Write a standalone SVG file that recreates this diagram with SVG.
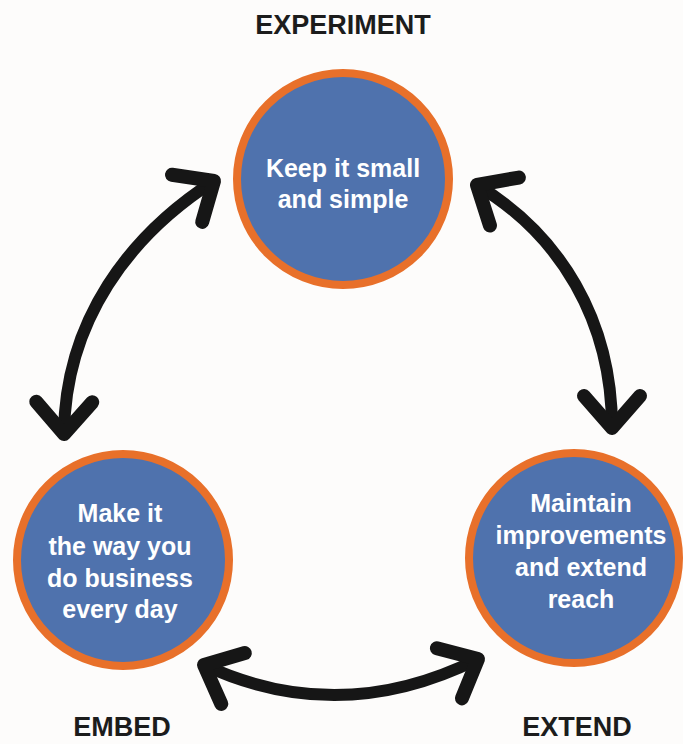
<svg xmlns="http://www.w3.org/2000/svg" width="683" height="744" viewBox="0 0 683 744">
  <style>
    .node circle { fill: #4f72ad; stroke: #e8702a; stroke-width: 8; }
    .node text { fill: #ffffff; font-family: "Liberation Sans", Arial, sans-serif; font-weight: bold; font-size: 25px; text-anchor: middle; }
    .stage { fill: #1c1c1c; font-family: "Liberation Sans", Arial, sans-serif; font-weight: bold; font-size: 27px; text-anchor: middle; }
    .link { fill: none; stroke: #161616; stroke-width: 12; stroke-linecap: round; marker-start: url(#chevron); marker-end: url(#chevron); }
  </style>
  <defs>
    <marker id="chevron" markerUnits="userSpaceOnUse" orient="auto-start-reverse" markerWidth="80" markerHeight="80" refX="0" refY="0" viewBox="-50 -40 60 80" overflow="visible">
      <path d="M -32,-28 L 0,0 L -32,28" fill="none" stroke="#161616" stroke-width="14" stroke-linecap="round" stroke-linejoin="round"/>
    </marker>
  </defs>
  <rect width="683" height="744" fill="#fdfcfb"/>

  <!-- stage labels -->
  <text class="stage" x="343" y="34">EXPERIMENT</text>
  <text class="stage" x="122" y="736">EMBED</text>
  <text class="stage" x="577" y="736">EXTEND</text>

  <!-- connectors -->
  <g id="connectors">
    <path class="link" d="M 214,181 C 130,235 65,320 64,434"/>
    <path class="link" d="M 477,185 C 560,235 612,320 612,428"/>
    <path class="link" d="M 204,665 Q 340,728 478,659" stroke-width="13"/>
  </g>

  <g id="experiment" class="node">
    <circle cx="343" cy="179" r="106"/>
    <text x="343" y="177">Keep it small</text>
    <text x="343" y="208">and simple</text>
  </g>

  <g id="embed" class="node">
    <circle cx="123" cy="560" r="106"/>
    <text x="120" y="522">Make it</text>
    <text x="120" y="555">the way you</text>
    <text x="120" y="587">do business</text>
    <text x="120" y="618">every day</text>
  </g>

  <g id="extend" class="node">
    <circle cx="574" cy="558" r="105"/>
    <text x="581" y="512">Maintain</text>
    <text x="581" y="544">improvements</text>
    <text x="581" y="576">and extend</text>
    <text x="581" y="608">reach</text>
  </g>
</svg>
